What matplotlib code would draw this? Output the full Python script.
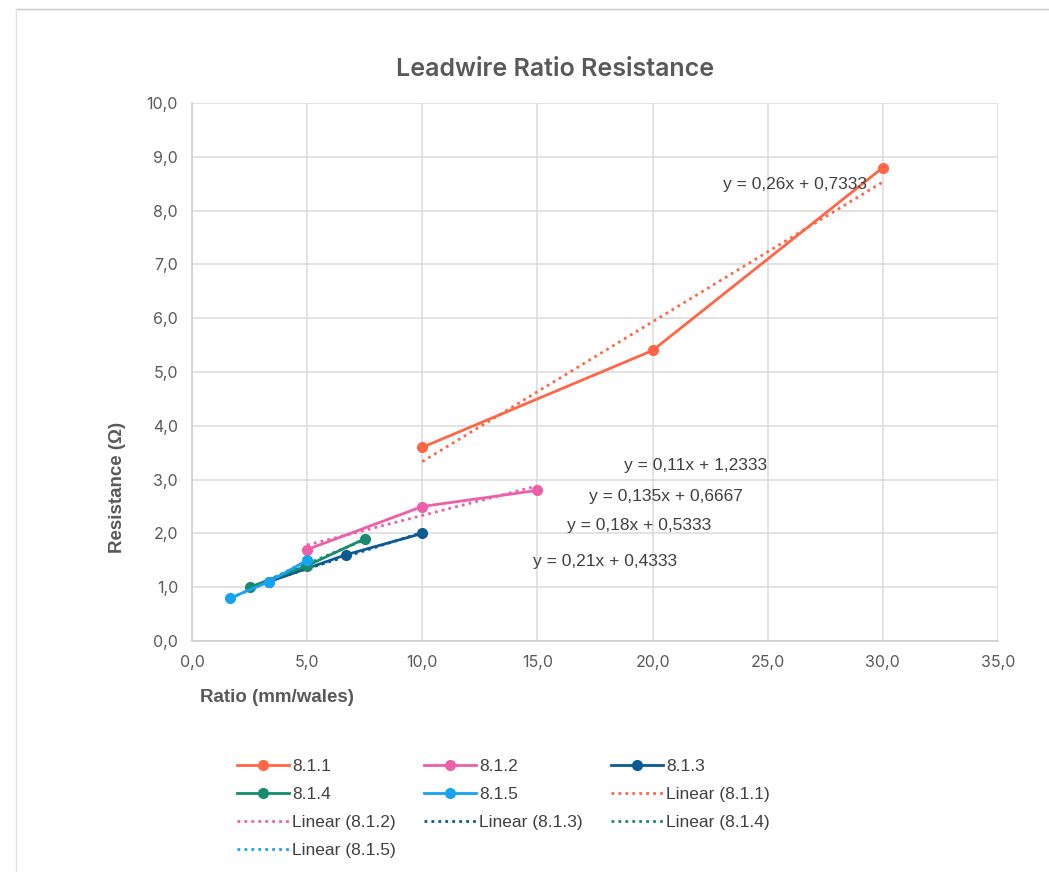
import numpy as np
import matplotlib
matplotlib.use('Agg')
import matplotlib.pyplot as plt
from matplotlib.lines import Line2D
from matplotlib.ticker import FuncFormatter

plt.rcParams['font.family'] = ['Inter', 'DejaVu Sans']

# Data
series = ['8.1.1', '8.1.2', '8.1.3', '8.1.4', '8.1.5']
x_811 = [10, 20, 30]
y_811 = [3.6, 5.4, 8.8]
x_812 = [5, 10, 15]
y_812 = [1.7, 2.5, 2.8]
x_813 = [10 / 3, 20 / 3, 10]
y_813 = [1.1, 1.6, 2.0]
x_814 = [2.5, 5, 7.5]
y_814 = [1.0, 1.4, 1.9]
x_815 = [5 / 3, 10 / 3, 5]
y_815 = [0.8, 1.1, 1.5]
colors = ['#FF6645', '#EE5FA8', '#0A5B92', '#178A70', '#16A3F2']

# equation labels (text position in data units)
eq_labels = ['y = 0,26x + 0,7333', 'y = 0,11x + 1,2333', 'y = 0,135x + 0,6667',
             'y = 0,18x + 0,5333', 'y = 0,21x + 0,4333']
eq_pos = [(26.2, 8.48), (21.85, 3.27), (20.6, 2.68), (19.4, 2.14), (17.95, 1.47)]

xs = [x_811, x_812, x_813, x_814, x_815]
ys = [y_811, y_812, y_813, y_814, y_815]

grey = '#595959'
arial = ['Liberation Sans', 'DejaVu Sans']

fig = plt.figure(figsize=(10.49, 8.72), dpi=100)
ax = fig.add_axes([192 / 1049, 1 - 641 / 872, 806 / 1049, 538 / 872])

line_h = []
trend_h = []
for name, x, y, c in zip(series, xs, ys, colors):
    h, = ax.plot(x, y, color=c, lw=2.0, marker='o', ms=7, zorder=3, label=name)
    line_h.append(h)
for name, x, y, c in zip(series, xs, ys, colors):
    k, b = np.polyfit(x, y, 1)
    xx = np.array([min(x), max(x)])
    h, = ax.plot(xx, k * xx + b, color=c, lw=2.0, ls=(0, (1, 1.5)), zorder=2,
                 label='Linear (%s)' % name)
    trend_h.append(h)

for t, (px, py) in zip(eq_labels, eq_pos):
    ax.text(px, py, t, ha='center', va='center', fontsize=12.5, color='#404040',
            family=arial, zorder=4)

ax.set_xlim(0, 35)
ax.set_ylim(0, 10)
ax.set_xticks(np.arange(0, 36, 5))
ax.set_yticks(np.arange(0, 11, 1))
fmt = FuncFormatter(lambda v, p: ('%.1f' % v).replace('.', ','))
ax.xaxis.set_major_formatter(fmt)
ax.yaxis.set_major_formatter(fmt)
ax.grid(True, color='#DDDDDD', lw=1.2)
ax.set_axisbelow(True)
for s in ['top', 'right']:
    ax.spines[s].set_visible(False)
for s in ['left', 'bottom']:
    ax.spines[s].set_color('#D0D0D0')
    ax.spines[s].set_linewidth(1.2)
ax.tick_params(length=0, labelsize=11.5, labelcolor=grey, pad=10)

fig.text(555 / 1049, 1 - 70 / 872, 'Leadwire Ratio Resistance', ha='center', va='center',
         fontsize=18, fontweight='semibold', color=grey)
fig.text(118 / 1049, 1 - 487 / 872, 'Resistance (Ω)', ha='center', va='center',
         rotation=90, fontsize=13.5, fontweight='bold', color=grey, family=arial)
fig.text(277 / 1049, 1 - 697 / 872, 'Ratio (mm/wales)', ha='center', va='center',
         fontsize=13.5, fontweight='bold', color=grey, family=arial)

# legend: row-major order within 3 columns (4,3,3)
order = [line_h[0], line_h[3], trend_h[1], trend_h[4],
         line_h[1], line_h[4], trend_h[2],
         line_h[2], trend_h[0], trend_h[3]]
fig.legend(handles=order, labels=[h.get_label() for h in order], ncol=3,
           loc='upper left', bbox_to_anchor=(221 / 1049, 1 - 743 / 872),
           frameon=False, handlelength=3.0, handletextpad=0.2,
           columnspacing=1.6, labelspacing=0.75, labelcolor='#404040',
           prop={'family': arial, 'size': 12.5})

# outer chart frame
fig.add_artist(Line2D([16 / 1049, 1], [1 - 9 / 872, 1 - 9 / 872], color='#C8C8C8', lw=1))
fig.add_artist(Line2D([16 / 1049, 16 / 1049], [0, 1 - 9 / 872], color='#E0E0E0', lw=1))

fig.savefig('out.png', dpi=100, facecolor='white')
